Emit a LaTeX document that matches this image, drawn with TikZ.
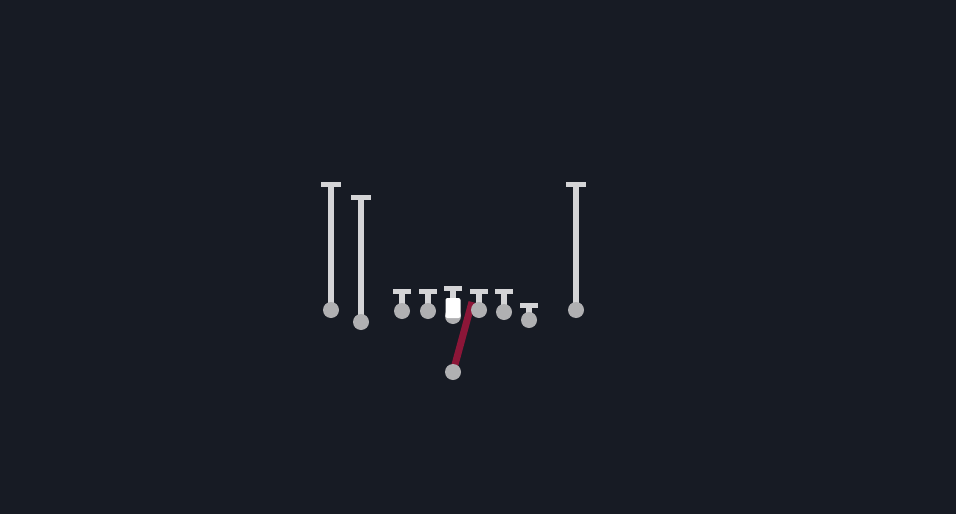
\documentclass[tikz,border=0pt]{standalone}
\definecolor{bg}{RGB}{23,27,36}
\definecolor{barc}{RGB}{212,212,214}
\definecolor{dotc}{RGB}{176,176,178}
\definecolor{routec}{RGB}{140,22,56}
\begin{document}
\begin{tikzpicture}[x=1pt,y=-1pt,
  dot/.style={circle,fill=dotc,minimum size=16pt,inner sep=0pt},
  stem/.style={draw=barc,line width=6pt},
  tbar/.style={draw=barc,line width=5pt},
  route/.style={draw=routec,line width=7pt}]
\fill[bg] (0,0) rectangle (956,514);
\useasboundingbox (0,0) rectangle (956,514);
% route of the back
\coordinate (rend) at (472,302);
\coordinate (qbc) at (453,372);
\draw[route] (qbc) -- (rend);
\node[dot] (qb) at (qbc) {};
% receivers
\foreach \n/\x/\yt/\yc in {wra/331/184/310, wrb/361/197/322, wrc/576/184/310}{
  \draw[stem] (\x,\yt) -- (\x,\yc);
  \draw[tbar] (\x-10,\yt) -- (\x+10,\yt);
  \node[dot] (\n) at (\x,\yc) {};
}
% linemen and end
\foreach \n/\x/\yt/\yc in {lt/402/291/311, lg/428/291/311, rg/479/291/310, rt/504/291/312, te/529/305/320}{
  \draw[stem] (\x,\yt) -- (\x,\yc);
  \draw[tbar] (\x-9,\yt) -- (\x+9,\yt);
  \node[dot] (\n) at (\x,\yc) {};
}
% center
\node[dot] (c) at (453,316) {};
\draw[stem] (453,288) -- (453,300);
\draw[tbar] (444,288) -- (462,288);
\node[fill=white,rounded corners=2pt,minimum width=15pt,minimum height=20pt,inner sep=0pt] (cbox) at (453,308) {};
\end{tikzpicture}
\end{document}
